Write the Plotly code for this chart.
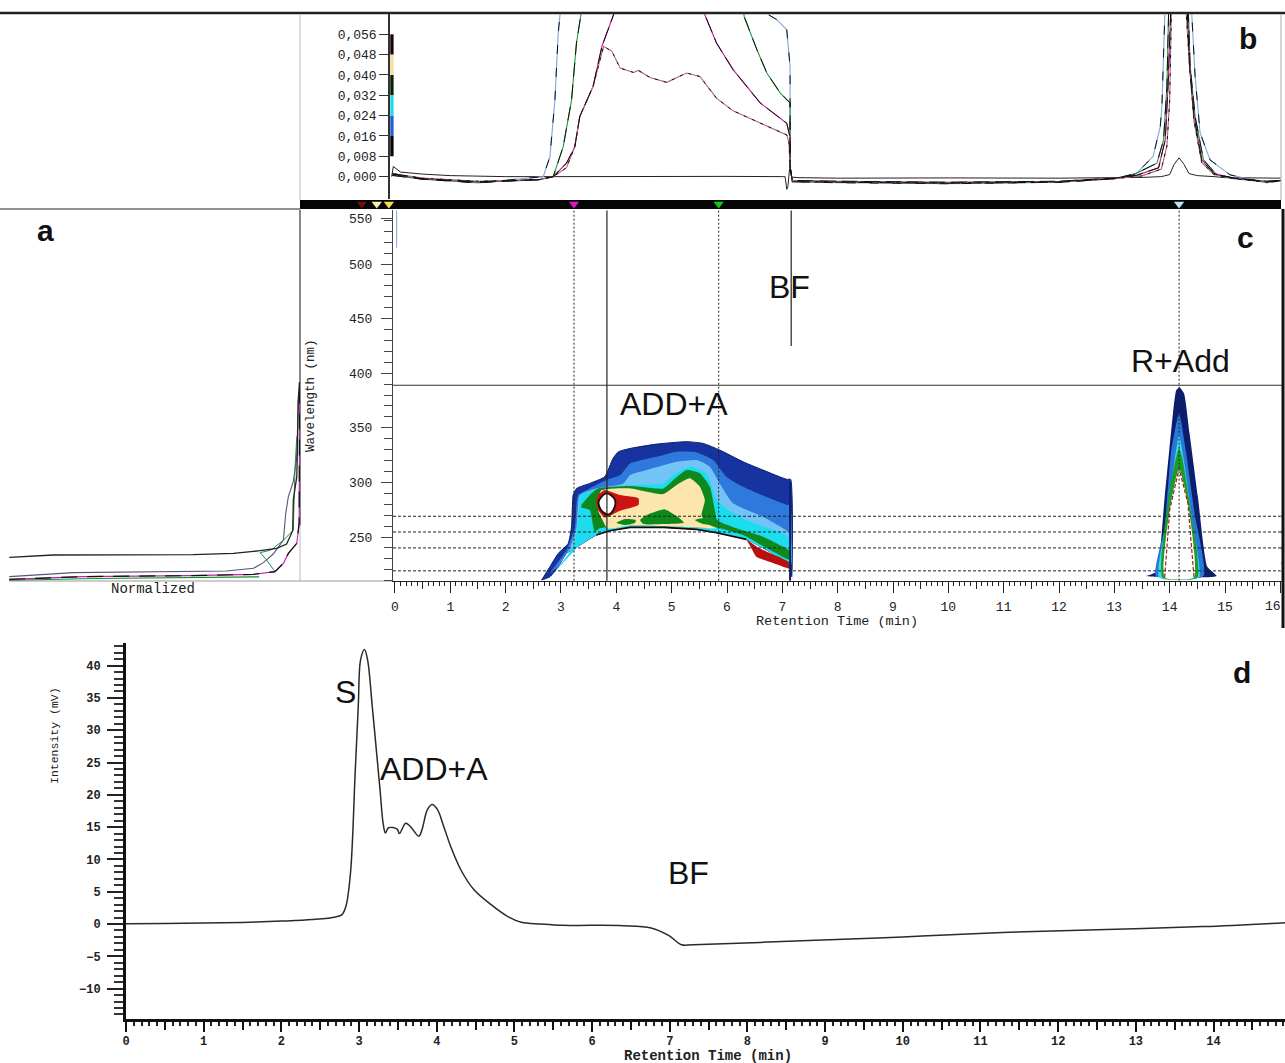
import plotly.graph_objects as go

W, H = 1285, 1063
MONO = "Liberation Mono"
SANS = "Liberation Sans"

# ---------- panel b: absorbance vs time ----------
blue_t = [-0.05,0.5,1.5,2.68,2.80,2.89,2.95,2.99,3.1,6.6,6.75,6.90,7.08,7.14,7.14,7.18,8,10,12,13.0,13.40,13.70,13.83,13.86,13.90,13.95,14.36,14.40,14.46,14.55,14.73,15.09,15.75,16]
blue_a = [0.001,-0.001,-0.0025,0,.0079,.030,.0565,.0637,.09,.09,.0637,.0618,.0578,.0434,.004,-.002,-.0024,-.0028,-.0022,-.0008,.0013,.0079,.0197,.0276,.063,.09,.09,.0637,.0394,.0172,.0066,.0007,-.0025,-.0015]
green_t = [-0.05,0.5,1.5,2.6,2.86,3.04,3.19,3.28,3.36,3.45,6.2,6.31,6.54,6.72,6.96,7.14,7.14,7.18,8,10,12,13.0,13.34,13.77,13.89,13.95,13.98,14.03,14.3,14.34,14.37,14.46,14.61,14.85,15.15,15.75,16]
green_a = [0.0005,-0.001,-0.0023,-0.0012,0,.0118,.030,.0526,.0637,.09,.09,.063,.05,.0408,.033,.029,.004,-.002,-.0022,-.0026,-.0022,-.0008,.0007,.0053,.0145,.0355,.0637,.09,.09,.0637,.0434,.0237,.0066,.0007,-.0005,-.0018,-.0015]
dark_t = [-0.05,0.5,1.5,2.6,2.86,3.10,3.25,3.34,3.58,3.74,3.95,4.1,5.45,5.60,5.81,6.11,6.60,7.08,7.14,7.14,7.18,8,10,12,13.0,13.40,13.80,13.92,13.97,14.01,14.06,14.27,14.32,14.36,14.44,14.58,14.80,15.15,15.75,16]
dark_a = [0.0012,-0.0008,-0.002,-0.0012,0,.0053,.0118,.0237,.0355,.0513,.0637,.09,.09,.0637,.0526,.0421,.029,.021,.0155,.004,-.0015,-.0018,-.0022,-.0018,-.0006,.0005,.0035,.0145,.0355,.0637,.09,.09,.0637,.0434,.0237,.0066,.0012,-.0006,-.002,-.0015]
red_t = [0.0,0.5,1.5,2.6,2.86,3.10,3.25,3.34,3.58,3.77,3.92,4.07,4.31,4.40,4.61,4.91,5.27,5.51,5.81,6.11,6.60,7.08,7.12,7.14,7.18,8,10,12,13.0,13.50,13.85,13.95,14.0,14.03,14.08,14.26,14.30,14.36,14.44,14.58,14.80,15.15,15.75,16]
red_a = [0.001,-0.0006,-0.0018,-0.0012,0,.0035,.0118,.0237,.0355,.0513,.0493,.0427,.041,.0418,.039,.0371,.0408,.0394,.0309,.0259,.0211,.0164,.0133,.004,-.0018,-.002,-.0024,-.002,-.0008,.0003,.003,.012,.03,.0637,.09,.09,.0637,.0434,.0217,.0056,.0008,-.0008,-.0022,-.0018]
base_t = [-0.06,-0.03,0.1,0.5,1,2,3,4,5,6,7,7.05,7.08,7.10,7.13,7.17,7.3,8,10,12,13.5,13.85,14.0,14.08,14.17,14.26,14.35,14.5,14.8,15,16]
base_a = [0.0,.004,.0018,.001,.0004,0,0,.0001,0,.0001,0,0,-.005,-.004,.003,-.0002,-.0004,-.0006,-.0005,-.0006,-.0003,0,.0008,.0048,.0074,.0048,.0012,.0004,0,-.0004,-.0006]
level_colors = ["#170606","#f7dda0","#06200a","#22dbe8","#1f5fd0","#050505"]
level_lo = [.048,.040,.032,.024,.016,.008]
b_ticks = [0,.008,.016,.024,.032,.040,.048,.056]
b_labels = ["0,000","0,008","0,016","0,024","0,032","0,040","0,048","0,056"]

# ---------- panel c: time / wavelength contour ----------
low_t = [7.17,7.14,6.77,6.35,5.81,5.45,4.85,4.25,3.88,3.64,3.34,3.10,2.95,2.80,2.65]
low_w = [213.6,221.2,236.5,247.8,253.9,257,258.8,258.8,255.7,251.8,242.6,235,222.8,213.6,210.6]
navy_t = [2.65,2.80,2.95,3.13,3.19,3.22,3.28,3.52,3.79,3.94,4.04,4.25,4.73,5.27,5.57,5.87,6.29,6.65,7.08,7.15]
navy_w = [210.6,222.8,235,244.1,259.4,288.4,294.5,299.1,305.2,322,328.1,331.1,335.1,337.3,335.7,329.6,318.9,311.3,302.8,302.8]
mid_t = [2.80,3.10,3.25,3.31,3.52,3.82,4.07,4.25,4.73,5.09,5.45,5.75,5.99,6.29,7.08,7.14]
mid_w = [216.7,238,259.4,288.4,294.5,302.1,306.7,317.4,323.5,328.1,327.5,320.5,305.2,296,279.3,279.3]
sky_t = [2.86,3.16,3.28,3.34,3.64,4.13,4.25,4.55,5.09,5.45,5.69,5.87,6.11,6.65,7.11,7.14]
sky_w = [218.2,239.6,259.4,288.4,294.5,299.1,306.7,311.3,318.9,320.5,314.4,299.1,280.8,268.6,254.8,251.8]
cyan_t = [2.92,3.22,3.31,3.36,3.64,4.25,4.85,5.03,5.33,5.63,5.81,5.99,6.35,7.14]
cyan_w = [219.7,241,265.5,288.4,293.6,297.6,299.1,306.7,314.4,308.3,283.8,276.2,265.5,249]
green_poly_t = [3.37,3.55,3.67,4.25,4.85,5.03,5.27,5.51,5.69,5.78,5.82,6.17,6.65,7.15,7.15,6.65,6.29,5.81,5.45,4.25,3.70,3.61,3.52,3.37]
green_poly_w = [279.3,289.9,294.5,296.7,294.5,302.1,311.3,308.3,296,274.7,265.5,257.9,250.2,236.5,228.9,241.7,251.8,258.8,258.8,260.6,257.9,254.8,274.7,277.1]
cream_t = [3.72,4.25,4.85,5.09,5.33,5.51,5.60,5.54,5.63,5.81,5.45,4.25,3.84,3.75,3.67]
cream_w = [292.4,294.5,289.3,297.6,303.7,296,283.8,270.1,262.5,257.9,258.8,260.6,257.9,265.5,274.7]
isle1_t = [4.0,4.16,4.35,4.34,4.16]
isle1_w = [263,266.4,265.5,263,260.9]
isle2_t = [4.43,4.55,4.88,5.15,5.22,4.85,4.49]
isle2_w = [265.5,270.1,275.3,267,263,261.8,261.8]
isle3_t = [5.42,5.69,5.81,5.96,5.57]
isle3_w = [265.5,268,265.5,260,261.8]
red_blob_t = [3.67,3.79,4.07,4.40,4.40,4.07,3.79,3.67,3.64]
red_blob_w = [288.4,293,288.4,285.4,279.3,274.1,267.9,274.7,282.3]
hole_t = [3.82,3.96,3.98,3.88,3.75,3.68]
hole_w = [289.9,285.4,279.3,271,273.1,282.3]
red_low_t = [6.35,6.59,7.11,7.17,7.11,6.77,6.53,6.41]
red_low_w = [247.8,239.6,227.3,221.2,221.2,227.3,232,242.6]

peak_navy_t = [13.58,13.76,13.91,14.06,14.12,14.18,14.26,14.36,14.51,14.68,14.85]
peak_navy_w = [214.2,218.2,286.9,363.2,384.6,387,381.5,344.9,286.9,222.8,214.2]
peak_blue_t = [13.75,13.91,14.03,14.17,14.29,14.45,14.61]
peak_blue_w = [214.2,259.4,329.6,363.2,329.6,271.6,214.2]
peak_sky_t = [13.81,13.97,14.09,14.17,14.27,14.42,14.53]
peak_sky_w = [213,271.6,320.5,343.4,315.9,259.4,213]
peak_green_t = [13.87,14.0,14.12,14.17,14.23,14.36,14.50]
peak_green_w = [213,293,323.5,331.2,322,280.8,213]
peak_white_t = [13.91,14.0,14.17,14.33,14.44]
peak_white_w = [213,274.7,312.8,280.8,213]

dash_times = [3.235,5.85,14.17]
dash_waves = [269,254.6,240,219]
cross_time = 3.83
cross_wave = 389
bf_time = 7.16
bf_top, bf_bottom = 549, 425
c_xvals = [i/2 for i in range(0,33)]
c_xtext = [str(i//2) if i % 2 == 0 and i < 32 else "" for i in range(0,33)]
c_yvals = [250,300,350,400,450,500,542]
c_ytext = ["250","300","350","400","450","500","550"]
marker_t = [-0.6,-0.33,-0.11,3.235,5.85,14.17]
marker_col = ["#701010","#f8f0b0","#f4e04a","#d818c8","#10c818","#b8e4f8"]
side_w = [269,254.6,240,226,219]
side_col = ["#f0a0a0","#e020c0","#20c020","#f0d060","#e8e8f8"]

# ---------- panel a: normalized spectra ----------
sp1_n = [.001,.152,.633,.771,.863,.920,.954,.975,.977,.989,.992,.994,.998]
sp1_w = [231.4,233.5,233.8,235,237.5,239.6,243.6,255.8,283.9,305.3,345,375.5,392]
sp2_n = [.001,.221,.748,.840,.874,.908,.943,.951,.960,.977,.989,.992,.994]
sp2_w = [213.7,217.4,218.9,221.3,226.5,234.4,247.3,271.7,287,300.7,323.6,345,375.5]
sp3_n = [.001,.255,.622,.840,.914,.943,.960,.989,.997,.997,.999]
sp3_w = [211.2,213.7,214.6,215.8,218.3,225.9,235,244.2,262.5,314.4,392]
sp4_n = [.914,.885,.863,.90,.943,.977,.983,.989]
sp4_w = [218.3,229,235.7,238,247,256.4,314.4,341.9]
sp5_n = [.001,.30,.86]
sp5_w = [210.4,212,213.5]

# ---------- panel d: intensity vs time ----------
d_t = [0,0.5,1,1.5,2,2.4,2.7,2.78,2.83,2.89,2.95,2.99,3.02,3.07,3.11,3.17,3.23,3.27,3.31,3.34,3.38,3.49,3.52,3.60,3.66,3.77,3.81,3.88,3.94,4.01,4.09,4.18,4.31,4.48,4.70,4.91,5.09,5.34,5.6,6.0,6.4,6.76,6.99,7.15,7.3,8.7,10,11.28,12.5,13.86,14.92]
d_v = [0.05,0.1,0.15,0.25,0.45,0.7,1.1,1.45,2.7,7.9,23.4,33.7,40.9,42.5,40.9,33.7,26,20.8,15.6,14.1,14.9,14.7,14.0,15.6,15.1,13.6,14.6,17.7,18.5,17.7,15.1,12,8.4,5.3,3,1.2,.26,0,-.2,-.2,-.25,-.6,-1.8,-3.2,-3.2,-2.6,-2,-1.3,-.9,-.4,.2]
d_xvals = [i/2 for i in range(0,30)]
d_xtext = [str(i//2) if i % 2 == 0 else "" for i in range(0,30)]
d_int_ticks = list(range(0, 15))
c_int_ticks = list(range(0, 17))
d_yvals = [-10,-5,0,5,10,15,20,25,30,35,40]
d_ytext = ["\u221210","\u22125","0","5","10","15","20","25","30","35","40"]
d_marker_t = [7.5]
d_marker_v = [-15.3]


def xdom(a, b):
    return [a / W, b / W]

def ydom(top, bottom):
    return [1 - bottom / H, 1 - top / H]

fig = go.Figure()

def line(x, y, color, width=1, dash=None, xa="x", ya="y", shape="linear"):
    fig.add_trace(go.Scatter(x=x, y=y, mode="lines", xaxis=xa, yaxis=ya,
                             line=dict(color=color, width=width, dash=dash, shape=shape),
                             hoverinfo="skip", showlegend=False))

def poly(x, y, color, xa="x2", ya="y2", edge=None, ew=0, smooth=0.5):
    fig.add_trace(go.Scatter(x=list(x) + [x[0]], y=list(y) + [y[0]], mode="lines", fill="toself",
                             fillcolor=color, xaxis=xa, yaxis=ya,
                             line=dict(color=edge or color, width=ew, shape="spline", smoothing=smooth),
                             hoverinfo="skip", showlegend=False))

# panel b
line(base_t, base_a, "#222222", 1)
for tt, aa, col in [(blue_t, blue_a, "#7fa6dc"), (green_t, green_a, "#1f9a3c"),
                    (dark_t, dark_a, "#c020a0"), (red_t, red_a, "#b06a70")]:
    line(tt, aa, col, 1.1)
for tt, aa, d in [(blue_t, blue_a, "9px,14px"), (green_t, green_a, "14px,8px"),
                  (dark_t, dark_a, "16px,6px"), (red_t, red_a, "3px,6px")]:
    line(tt, aa, "#111111", 1, d)
for lo, col in zip(level_lo, level_colors):
    fig.add_trace(go.Bar(x=[-0.055], y=[0.008], base=[lo], width=[0.06], marker=dict(color=col, line=dict(width=0)),
                         xaxis="x", yaxis="y", hoverinfo="skip", showlegend=False))

# panel c contour
poly(navy_t + low_t, navy_w + low_w, "#16339f", edge="#0a1f70", ew=1)
poly(mid_t + low_t[1:13], mid_w + low_w[1:13], "#2f78dc")
poly(sky_t + low_t[1:12], sky_w + low_w[1:12], "#72c4f6")
poly(cyan_t + low_t[1:11], cyan_w + low_w[1:11], "#1cdcf0")
poly(green_poly_t, green_poly_w, "#0e8a1c")
poly(cream_t, cream_w, "#fce6ae")
for a, b in [(isle1_t, isle1_w), (isle2_t, isle2_w), (isle3_t, isle3_w)]:
    poly(a, b, "#0e8a1c")
poly(red_blob_t, red_blob_w, "#cc1414")
poly(hole_t, hole_w, "#ffffff", edge="#200808", ew=1.8, smooth=1)
poly(red_low_t, red_low_w, "#b81010")
line(low_t[3:10], low_w[3:10], "#1a0606", 1.6, xa="x2", ya="y2")
line([7.14, 7.14], [210, 300], "#0a1f70", 2, xa="x2", ya="y2")

poly(peak_navy_t, peak_navy_w, "#0b1f6e")
poly(peak_blue_t, peak_blue_w, "#2878d8")
poly(peak_sky_t, peak_sky_w, "#38d8f0")
poly(peak_green_t, peak_green_w, "#1c9c28")
poly(peak_white_t, peak_white_w, "#ffffff")
line(peak_white_t, peak_white_w, "#a02010", 1.2, "4px,2px", "x2", "y2")

# cursors
c_range = [-0.036, 16.03]
for t in dash_times:
    line([t, t], [210, 549], "#222222", 1, "2px,2px", "x2", "y2")
for w in dash_waves:
    line(c_range, [w, w], "#222222", 1, "3px,2px", "x2", "y2")
line([cross_time, cross_time], [210, 549], "#222222", 1.2, None, "x2", "y2")
line(c_range, [cross_wave, cross_wave], "#333333", 1.2, None, "x2", "y2")
line([bf_time, bf_time], [bf_bottom, bf_top], "#222222", 1.2, None, "x2", "y2")
line([0.03, 0.03], [515, 549], "#7fa6dc", 1, None, "x2", "y2")

fig.add_trace(go.Scatter(x=[16.03] * 5, y=side_w, mode="markers", xaxis="x2", yaxis="y2", cliponaxis=False,
                         marker=dict(size=3, color=side_col), hoverinfo="skip", showlegend=False))

# triangle markers on the black band
fig.add_trace(go.Scatter(x=marker_t, y=[0.55] * len(marker_t), mode="markers", xaxis="x5", yaxis="y5", cliponaxis=False,
                         marker=dict(symbol="triangle-down", size=9, color=marker_col, line=dict(width=0)),
                         hoverinfo="skip", showlegend=False))

# panel a
line(sp5_n, sp5_w, "#109020", 1.2, None, "x3", "y3")
line(sp2_n, sp2_w, "#555577", 1.1, None, "x3", "y3")
line(sp4_n, sp4_w, "#2a8a50", 1, None, "x3", "y3")
line(sp3_n, sp3_w, "#c020b0", 1.1, None, "x3", "y3")
line(sp3_n, sp3_w, "#111111", 1.2, "16px,10px", "x3", "y3")
line(sp1_n, sp1_w, "#222222", 1.3, None, "x3", "y3")

# panel d
line(d_t, d_v, "#2a2a2a", 1.5, None, "x4", "y4", "spline")
fig.add_trace(go.Scatter(x=d_marker_t, y=d_marker_v, mode="markers", xaxis="x4", yaxis="y4", cliponaxis=False,
                         marker=dict(symbol="triangle-up", size=6, color="#666666"), hoverinfo="skip", showlegend=False))

# invisible traces that bring up the overlay axes carrying the long integer ticks
fig.add_trace(go.Scatter(x=[1], y=[300], mode="markers", marker=dict(opacity=0), xaxis="x6", yaxis="y2", hoverinfo="skip", showlegend=False))
fig.add_trace(go.Scatter(x=[1], y=[0], mode="markers", marker=dict(opacity=0), xaxis="x7", yaxis="y4", hoverinfo="skip", showlegend=False))

tickfont = dict(family=MONO, size=13, color="#222222")
tickfont_d = dict(family=MONO, size=12, color="#222222", weight=700)
d_range = [0, 14.92]
layout = dict(
    width=W, height=H, margin=dict(l=0, r=0, t=0, b=0, autoexpand=False),
    paper_bgcolor="white", plot_bgcolor="rgba(0,0,0,0)", showlegend=False, barmode="overlay",
    xaxis=dict(domain=xdom(390, 1282), range=[-0.09, 16.03], anchor="y", visible=False),
    yaxis=dict(domain=ydom(14, 199), range=[-0.0088, 0.0640], anchor="x", tickvals=b_ticks, ticktext=b_labels,
               ticks="outside", ticklen=9, tickcolor="#333333", showline=True, linecolor="#333333", linewidth=1.5,
               showgrid=False, zeroline=False, tickfont=tickfont),
    xaxis2=dict(domain=xdom(393, 1282), range=c_range, anchor="y2", tickvals=c_xvals, ticktext=c_xtext,
                ticks="outside", ticklen=7, tickcolor="#222222", showline=True, linecolor="#222222", linewidth=1.2,
                minor=dict(dtick=0.1, ticks="outside", ticklen=4, tickcolor="#222222", showgrid=False),
                showgrid=False, zeroline=False, tickfont=tickfont, tickangle=0, ticklabelstandoff=6),
    xaxis6=dict(domain=xdom(393, 1282), range=c_range, anchor="y2", overlaying="x2", tickvals=c_int_ticks,
                ticks="outside", ticklen=11, tickcolor="#222222", tickwidth=1.2, showticklabels=False,
                showgrid=False, zeroline=False, showline=False),
    yaxis2=dict(domain=ydom(210, 581), range=[209.7, 549.5], anchor="x2", tickvals=c_yvals, ticktext=c_ytext,
                ticks="outside", ticklen=11, tickcolor="#444444", showline=True, linecolor="#444444", linewidth=1,
                minor=dict(dtick=10, ticks="outside", ticklen=8, tickcolor="#444444", showgrid=False),
                showgrid=False, zeroline=False, tickfont=tickfont, ticklabelstandoff=6),
    xaxis3=dict(domain=xdom(9, 300), range=[0, 1], anchor="y3", visible=False),
    yaxis3=dict(domain=ydom(210, 581), range=[209.7, 549.5], anchor="x3", visible=False),
    xaxis4=dict(domain=xdom(126, 1285), range=d_range, anchor="y4", tickvals=d_xvals, ticktext=d_xtext,
                ticks="outside", ticklen=8, tickcolor="#111111", tickwidth=1.5, showline=True, linecolor="#111111", linewidth=2.5,
                minor=dict(dtick=0.1, ticks="outside", ticklen=4, tickcolor="#222222", tickwidth=1.5, showgrid=False),
                showgrid=False, zeroline=False, tickfont=tickfont_d, tickangle=0, ticklabelstandoff=1),
    xaxis7=dict(domain=xdom(126, 1285), range=d_range, anchor="y4", overlaying="x4", tickvals=d_int_ticks,
                ticks="outside", ticklen=12, tickcolor="#111111", tickwidth=1.5, showticklabels=False,
                showgrid=False, zeroline=False, showline=False),
    yaxis4=dict(domain=ydom(643, 1019), range=[-14.7, 43.5], anchor="x4", tickvals=d_yvals, ticktext=d_ytext,
                ticks="outside", ticklen=16, tickcolor="#222222", tickwidth=1.5, showline=True, linecolor="#111111", linewidth=3,
                minor=dict(dtick=1, ticks="outside", ticklen=9, tickcolor="#333333", tickwidth=1.5, showgrid=False),
                showgrid=False, zeroline=False, tickfont=tickfont_d, ticklabelstandoff=4),
    xaxis5=dict(domain=xdom(300, 1282), range=[-1.717, 16.03], anchor="y5", visible=False),
    yaxis5=dict(domain=ydom(200, 209), range=[0, 1], anchor="x5", visible=False),
)
fig.update_layout(**layout)

def pline(x0, y0, x1, y1, color, width, layer="below"):
    fig.add_shape(type="line", xref="paper", yref="paper", x0=x0 / W, x1=x1 / W, y0=1 - y0 / H, y1=1 - y1 / H,
                  line=dict(color=color, width=width), layer=layer)

fig.add_shape(type="rect", xref="paper", yref="paper", x0=300 / W, x1=1281 / W, y0=1 - 209 / H, y1=1 - 200 / H,
              fillcolor="#050505", line=dict(width=0), layer="below")
pline(0, 13, W, 13, "#222222", 2.5)
pline(0, 209, 300, 209, "#222222", 1)
pline(300, 14, 300, 200, "#bbbbbb", 1)
pline(300, 210, 300, 525, "#111111", 1)
pline(300, 525, 300, 581, "#bbbbbb", 1)
pline(9, 581, 393, 581, "#999999", 1.2)
pline(1281, 14, 1281, 200, "#aaaaaa", 1)
pline(1283, 209, 1283, 628, "#111111", 3, "above")

def note(text, px, py, size=32, family=SANS, color="#111111", bold=False, angle=0):
    fig.add_annotation(text=f"<b>{text}</b>" if bold else text, xref="paper", yref="paper", x=px / W, y=1 - py / H,
                       xanchor="center", yanchor="middle", showarrow=False, textangle=angle,
                       font=dict(family=family, size=size, color=color))

note("BF", 789, 287)
note("R+Add", 1180, 361)
note("ADD+A", 674, 404)
note("S", 345, 692)
note("ADD+A", 434, 769)
note("BF", 688, 873)
note("a", 45, 231, 30, bold=True)
note("b", 1248, 38, 30, bold=True)
note("c", 1245, 237, 30, bold=True)
note("d", 1242, 672, 30, bold=True)
note("16", 1273, 606, 13, MONO, "#222222")
note("Retention Time (min)", 837, 621, 13.5, MONO, "#222222")
note("Retention Time (min)", 708, 1056, 14, MONO, "#222222", bold=True)
note("Normalized", 153, 589, 14, MONO, "#222222")
note("Wavelength (nm)", 311, 396, 12.5, MONO, "#222222", angle=-90)
note("Intensity (mV)", 54, 736, 11.5, MONO, "#222222", angle=-90)

fig.write_html("out.html", post_script="document.body.style.margin='0';", config=dict(displayModeBar=False))
